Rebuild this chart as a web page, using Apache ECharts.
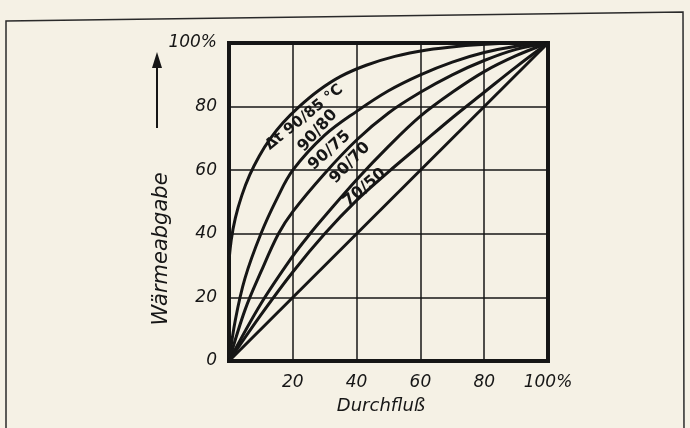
<!DOCTYPE html>
<html>
<head>
<meta charset="utf-8">
<script src="https://cdn.jsdelivr.net/npm/echarts@6/dist/echarts.min.js"></script>
<style>
html,body{margin:0;padding:0;background:#f5f1e5;}
#chart{width:690px;height:428px;}
</style>
</head>
<body>
<div id="chart"></div>
<script>
// ---- data (Durchfluß % -> Wärmeabgabe %) ----
const xTickLabels = ['', '20', '40', '60', '80', '100%'];
const yTickLabels = ['0', '20', '40', '60', '80', '100%'];
const curve9085 = [[0,0],[0,10],[0,20],[0,30],[0.7,38],[2,45],[4,52],[6.5,58.5],[9.5,64.5],[13,70],[17,75],[22,80],[28,85],[35,89.5],[43,93],[52,95.8],[62,97.8],[72,99],[82,99.7],[91,100],[100,100]];
const curve9080 = [[0,0],[2,13],[5,26],[10,40],[15,51],[20,60],[30,71],[40,78.5],[50,85],[60,90],[70,94],[80,97],[90,99],[100,100]];
const curve9075 = [[0,0],[5,16],[10,28],[15.5,40],[20,47],[30,59],[40,69.5],[50,78],[60,84.5],[70,90],[80,94.5],[90,98],[100,100]];
const curve9070 = [[0,0],[10,18],[20,33],[25.4,40],[30,45.5],[40,57],[50,67.5],[60,77],[70,84.5],[80,91],[90,96],[100,100]];
const curve7050 = [[0,0],[10,14.5],[20,28],[30,40],[40,50.5],[50,59.5],[60,68],[70,76.5],[80,84.5],[90,92.5],[100,100]];
const diagonal = [[0,0],[100,100]];
// curve labels: text, anchor (data coords), angle in degrees
const curveLabels = ['Δt 90/85 °C', '90/80', '90/75', '90/70', '70/50'];
const labelAnchors = [[23.6,76.6],[27.8,72.4],[31.5,66.2],[37.9,62.3],[42.5,54.5]];
const labelAngles = [39, 48, 42, 46, 40];

const ink = '#161616';
const chart = echarts.init(document.getElementById('chart'), null, {renderer:'canvas'});
function lineSeries(data){
  return {type:'line', data:data, smooth:0.35, showSymbol:false, silent:true,
          lineStyle:{color:ink, width:3}, z:3};
}
chart.setOption({
  backgroundColor:'#f5f1e5',
  animation:false,
  grid:{left:229, right:142, top:43, bottom:67, show:true, borderColor:ink, borderWidth:4, backgroundColor:'transparent'},
  xAxis:{type:'value', min:0, max:100, interval:20,
    axisLine:{show:false}, axisTick:{show:false},
    splitLine:{show:true, lineStyle:{color:ink, width:1.5}},
    axisLabel:{margin:13, color:ink, fontFamily:'DejaVu Sans', fontStyle:'italic', fontSize:17,
      formatter:function(v){return xTickLabels[Math.round(v/20)];}}},
  yAxis:{type:'value', min:0, max:100, interval:20,
    axisLine:{show:false}, axisTick:{show:false},
    splitLine:{show:true, lineStyle:{color:ink, width:1.5}},
    axisLabel:{margin:12, color:ink, fontFamily:'DejaVu Sans', fontStyle:'italic', fontSize:17,
      padding:[8,0,0,0],
      formatter:function(v){return yTickLabels[Math.round(v/20)];}}},
  series:[lineSeries(curve9085), lineSeries(curve9080), lineSeries(curve9075),
          lineSeries(curve9070), lineSeries(curve7050), lineSeries(diagonal)]
});

const g = [];
// outer frame of the figure
g.push({type:'polyline', shape:{points:[[6,430],[6,21],[683,12],[684,430]]}, style:{stroke:'#2a2a2a', lineWidth:1.5, fill:null}, silent:true});
// curve labels
curveLabels.forEach(function(t,i){
  const p = chart.convertToPixel({gridIndex:0}, labelAnchors[i]);
  g.push({type:'text', x:p[0], y:p[1], rotation:labelAngles[i]*Math.PI/180, z:10,
    style:{text:t, fill:ink, font:(i===0?'bold 15px':'bold 16px') + ' "DejaVu Sans"', align:'center', verticalAlign:'middle'}});
});
// axis titles
g.push({type:'text', x:381, y:406, style:{text:'Durchfluß', fill:ink, font:'italic 18px "DejaVu Sans"', align:'center', verticalAlign:'middle'}});
g.push({type:'text', x:162, y:249, rotation:Math.PI/2, style:{text:'Wärmeabgabe', fill:ink, font:'italic 21px "DejaVu Sans"', align:'center', verticalAlign:'middle'}});
// arrow
g.push({type:'line', shape:{x1:157, y1:64, x2:157, y2:128}, style:{stroke:ink, lineWidth:2}});
g.push({type:'polygon', shape:{points:[[157,52],[152,68],[162,68]]}, style:{fill:ink}});
chart.setOption({graphic:g});
</script>
</body>
</html>
